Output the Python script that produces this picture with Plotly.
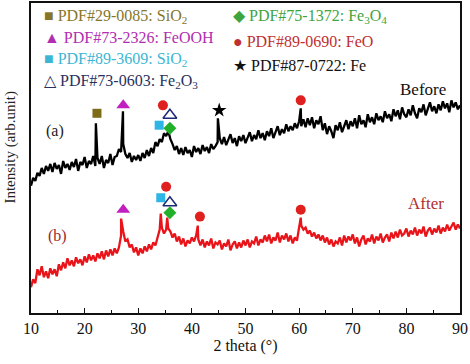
import numpy as np
import plotly.graph_objects as go

# ---------------- data ----------------
two_theta_start = 10.0
two_theta_step = 0.4

before_base = [
    128, 136, 133, 141, 138, 146, 140, 148, 143, 150,
    142, 151, 145, 149, 140, 153, 146, 150, 144, 152,
    147, 155, 143, 152, 149, 157, 146, 153, 150, 158,
    148, 156, 150, 158, 146, 154, 151, 160, 149, 157,
    158, 165, 162, 170, 160, 156, 161, 152, 158, 154,
    159, 153, 161, 156, 164, 158, 166, 161, 172, 168,
    175, 172, 181, 178, 183, 175, 170, 164, 168, 160,
    166, 159, 167, 161, 164, 157, 168, 162, 166, 160,
    169, 163, 167, 161, 170, 165, 168, 172, 176, 170,
    177, 169, 174, 180, 171, 176, 168, 178, 173, 179,
    171, 177, 182, 173, 179, 175, 184, 176, 181, 174,
    183, 178, 186, 176, 182, 188, 179, 185, 181, 190,
    183, 188, 184, 191, 186, 193, 188, 195, 187, 196,
    189, 197, 186, 194, 190, 198, 184, 191, 180, 188,
    183, 176, 189, 184, 192, 182, 188, 194, 185, 193,
    188, 196, 186, 199, 190, 194, 187, 200, 192, 197,
    190, 201, 194, 198, 192, 203, 196, 200, 193, 205,
    198, 204, 195, 207, 200, 197, 205, 199, 209, 201,
    196, 206, 202, 210, 199, 205, 212, 203, 208, 201,
    210, 204, 213, 206, 211, 202, 214, 207, 212, 205,
    209,
]
before_peak_x = [22.1, 27.15, 44.85, 60.3]
before_peak_y = [191, 203, 196, 206]

after_base = [
    26, 34, 30, 44, 38, 47, 36, 42, 35, 45,
    39, 44, 37, 49, 43, 51, 45, 55, 48, 53,
    47, 56, 50, 54, 48, 57, 51, 59, 53, 58,
    52, 60, 55, 62, 54, 63, 57, 64, 58, 65,
    60, 66, 78, 82, 72, 74, 66, 69, 61, 66,
    58, 65, 60, 67, 62, 69, 64, 71, 68, 76,
    84, 86, 80, 84, 85, 82, 76, 80, 72, 77,
    69, 75, 67, 73, 70, 76, 72, 78, 74, 68,
    74, 66, 72, 68, 75, 65, 71, 69, 73, 64,
    70, 67, 74, 63, 69, 72, 65, 71, 66, 73,
    68, 74, 66, 72, 70, 77, 68, 74, 71, 78,
    72, 79, 70, 76, 73, 81, 71, 78, 74, 80,
    72, 78, 70, 76, 73, 85, 88, 84, 86, 80,
    83, 77, 81, 75, 79, 73, 78, 71, 76, 69,
    74, 67, 72, 70, 76, 68, 78, 71, 77, 73,
    79, 70, 76, 67, 74, 78, 69, 75, 72, 79,
    70, 77, 73, 80, 71, 76, 79, 72, 81, 75,
    82, 76, 84, 78, 80, 85, 77, 83, 79, 86,
    78, 84, 80, 87, 77, 83, 86, 79, 85, 81,
    88, 80, 86, 82, 89, 83, 87, 91, 84, 89,
    85,
]
after_peak_x = [26.8, 34.2, 35.4, 41.1, 60.3]
after_peak_y = [95, 100, 96, 88, 96]

# phase markers: (x, y) for each pattern
phase_names = ["SiO2 29-0085", "FeOOH", "SiO2 89-3609", "Fe2O3", "Fe3O4", "FeO", "Fe"]
phase_symbols = ["square", "triangle-up", "square", "triangle-up-open", "diamond", "circle", "star"]
phase_colors = ["#7d6b18", "#c21fc2", "#2fb4e6", "#1c2a78", "#22b02a", "#e0201e", "#000000"]
phase_sizes = [9, 12, 9, 12, 10, 10, 11]

before_marks_x = {"SiO2 29-0085": [22.3], "FeOOH": [27.2], "SiO2 89-3609": [33.9],
                  "Fe2O3": [35.9], "Fe3O4": [35.9], "FeO": [34.6, 60.3], "Fe": [45.1]}
before_marks_y = {"SiO2 29-0085": [201], "FeOOH": [209], "SiO2 89-3609": [189],
                  "Fe2O3": [199], "Fe3O4": [186], "FeO": [209, 214], "Fe": [204]}
after_marks_x = {"FeOOH": [27.2], "SiO2 89-3609": [34.2], "Fe2O3": [35.9],
                 "Fe3O4": [35.9], "FeO": [35.2, 41.5, 60.3]}
after_marks_y = {"FeOOH": [104], "SiO2 89-3609": [116], "Fe2O3": [111],
                 "Fe3O4": [101], "FeO": [127, 97, 104]}

legend_texts = [
    ("■ PDF#29-0085: SiO<sub>2</sub>", "#86762a"),
    ("▲ PDF#73-2326: FeOOH", "#b02eb0"),
    ("■ PDF#89-3609: SiO<sub>2</sub>", "#3cb6d4"),
    ("△ PDF#73-0603: Fe<sub>2</sub>O<sub>3</sub>", "#28305e"),
    ("◆ PDF#75-1372: Fe<sub>3</sub>O<sub>4</sub>", "#3ea43e"),
    ("● PDF#89-0690: FeO", "#c03030"),
    ("★ PDF#87-0722: Fe", "#111111"),
]

x_ticks = [10, 20, 30, 40, 50, 60, 70, 80, 90]


def build(base, px, py):
    xs = two_theta_start + two_theta_step * np.arange(len(base))
    allx = np.concatenate([xs, np.array(px)])
    ally = np.concatenate([np.array(base, float), np.array(py, float)])
    order = np.argsort(allx, kind="stable")
    return allx[order], ally[order]


bx, by = build(before_base, before_peak_x, before_peak_y)
ax_, ay_ = build(after_base, after_peak_x, after_peak_y)

FONT = "Liberation Serif"

fig = go.Figure()
fig.add_trace(go.Scatter(x=bx, y=by, mode="lines", line=dict(color="#000000", width=2.3),
                         showlegend=False, hoverinfo="skip"))
fig.add_trace(go.Scatter(x=ax_, y=ay_, mode="lines", line=dict(color="#e8141a", width=2.3),
                         showlegend=False, hoverinfo="skip"))

for name, sym, col, sz in zip(phase_names, phase_symbols, phase_colors, phase_sizes):
    xs = before_marks_x.get(name, []) + after_marks_x.get(name, [])
    ys = before_marks_y.get(name, []) + after_marks_y.get(name, [])
    if not xs:
        continue
    fig.add_trace(go.Scatter(
        x=xs, y=ys, mode="markers",
        marker=dict(symbol=sym, color=col, size=sz,
                    line=dict(color=col, width=1.5 if "open" in sym else 0)),
        showlegend=False, hoverinfo="skip", cliponaxis=False))

# plot area in pixels: x 31..460, y 1..313
def px2paper(px, py):
    return (px - 31) / 429.0, (313 - py) / 312.0

legend_pos = [(42, 15), (42, 36), (42, 58), (42, 80), (231, 15), (231, 40), (231, 64)]
annotations = []
for (txt, col), (px, py) in zip(legend_texts, legend_pos):
    xx, yy = px2paper(px, py)
    annotations.append(dict(text=txt, x=xx, y=yy, xref="paper", yref="paper",
                            xanchor="left", yanchor="middle", showarrow=False,
                            font=dict(family=FONT, size=16, color=col)))

for txt, col, px, py, sz in [("(a)", "#222222", 55, 130, 16),
                             ("(b)", "#9a2a2a", 57, 235, 16),
                             ("Before", "#111111", 423, 88, 17),
                             ("After", "#b03030", 426, 203, 17)]:
    xx, yy = px2paper(px, py)
    annotations.append(dict(text=txt, x=xx, y=yy, xref="paper", yref="paper",
                            xanchor="center", yanchor="middle", showarrow=False,
                            font=dict(family=FONT, size=sz, color=col)))

annotations.append(dict(text="Intensity (arb.unit)", x=-31 / 429.0, y=(313 - 147) / 312.0,
                        xref="paper", yref="paper", xanchor="left", yanchor="middle",
                        textangle=-90, showarrow=False,
                        font=dict(family=FONT, size=15, color="#222222")))

fig.update_layout(
    width=470, height=364,
    margin=dict(l=31, r=10, t=1, b=51),
    paper_bgcolor="white", plot_bgcolor="white",
    font=dict(family=FONT, size=15, color="#111111"),
    annotations=annotations,
    showlegend=False,
)
fig.update_xaxes(range=[10, 90], tickmode="array", tickvals=x_ticks,
                 ticktext=[str(t) for t in x_ticks],
                 ticks="inside", ticklen=5, tickwidth=1.2, tickcolor="#111",
                 minor=dict(dtick=5, ticks="inside", ticklen=3, tickcolor="#111"),
                 showline=True, linecolor="#111", linewidth=1.6, mirror=True,
                 showgrid=False, zeroline=False,
                 tickfont=dict(family=FONT, size=16, color="#111"),
                 title=dict(text="2 theta (°)", font=dict(family=FONT, size=16, color="#111"),
                            standoff=4))
fig.update_yaxes(range=[0, 312], showticklabels=False, ticks="",
                 showline=True, linecolor="#111", linewidth=1.6, mirror=True,
                 showgrid=False, zeroline=False)

fig.write_html("out.html", config={"displayModeBar": False},
               post_script="document.body.style.margin='0';document.body.style.padding='0';")
